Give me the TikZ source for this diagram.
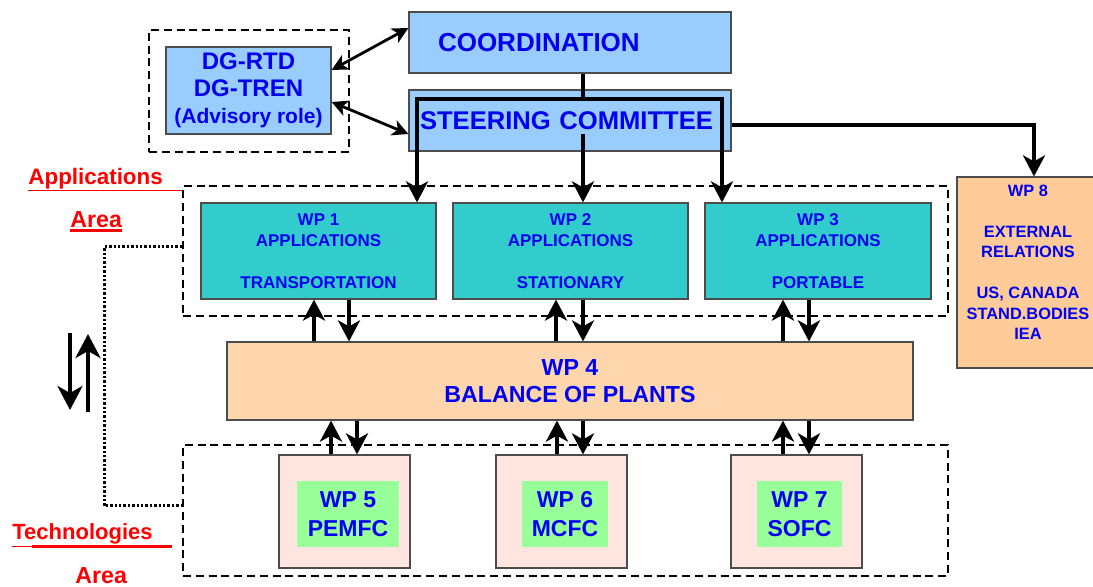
\documentclass[tikz,border=0pt]{standalone}
\usepackage{fontspec}
\setmainfont{Liberation Sans}
\usepackage{xcolor}
\usetikzlibrary{arrows.meta, calc}

\definecolor{skyblue}{HTML}{99CCFF}
\definecolor{wpteal}{HTML}{33CCCC}
\definecolor{wporange}{HTML}{FFCC99}
\definecolor{bopfill}{HTML}{FDD6AD}
\definecolor{techpink}{HTML}{FFE5DF}
\definecolor{techgreen}{HTML}{99FF99}
\definecolor{wpblue}{HTML}{0000F0}

\newcommand{\wpsize}[2]{\fontsize{#1}{#2}\selectfont}

\tikzset{
	box/.style={draw=black!70, line width=0.6pt, inner sep=0pt, align=center, text=wpblue, font=\bfseries},
	area/.style={draw=black, line width=1pt, dash pattern=on 4pt off 2.4pt, inner sep=0pt},
	redlbl/.style={text=red, inner sep=0pt, anchor=base west},
	arr/.style={line width=2pt, -{Stealth[length=10.5pt,width=11pt,inset=3pt]}},
	bigarr/.style={line width=2pt, -{Stealth[length=12pt,width=12.5pt,inset=3.5pt]}},
	dgarr/.style={line width=1.4pt, {Stealth[length=8pt,width=8pt,inset=2.2pt]}-{Stealth[length=8pt,width=8pt,inset=2.2pt]}},
	ulthin/.style={red, line width=0.5pt},
	ulthick/.style={red, line width=1.5pt}
}

\begin{document}
\begin{tikzpicture}[x=0.5pt, y=-0.5pt]
		\useasboundingbox (0,0) rectangle (1093,587);
		\clip (0,0) rectangle (1093,587);

		% Advisory
		\node[area, minimum width=100pt, minimum height=61pt] (advbox) at (249,91) {};
		\node[box, fill=skyblue, minimum width=82.5pt, minimum height=43.5pt, font={\bfseries\wpsize{12}{13.5}}] (dg) at (248.5,90.5)
			{DG-RTD\\DG-TREN\\{\wpsize{10.5}{13.5}(Advisory role)}};

		% Coordination and steering
		\node[box, fill=skyblue, minimum width=161pt, minimum height=30.5pt, text width=132pt, inner xsep=14.5pt, align=left, font={\bfseries\wpsize{13}{15}}] (coord) at (570,42.5)
			{COORDINATION};
		\node[box, fill=skyblue, minimum width=161pt, minimum height=30.5pt, text width=150pt, inner xsep=5.5pt, align=left, font={\bfseries\wpsize{12.8}{15}}] (steer) at (570,120.5)
			{STEERING COMMITTEE};

		% Applications
		\node[area, minimum width=382.5pt, minimum height=65pt] (apparea) at (565.5,251) {};
		\node[box, fill=wpteal, minimum width=117.5pt, minimum height=48pt, font={\bfseries\wpsize{8.5}{10.5}}] (wp1) at (318.5,251)
			{WP 1\\APPLICATIONS\\[10.5pt]TRANSPORTATION};
		\node[box, fill=wpteal, minimum width=117.5pt, minimum height=48pt, font={\bfseries\wpsize{8.5}{10.5}}] (wp2) at (570.5,251)
			{WP 2\\APPLICATIONS\\[10.5pt]STATIONARY};
		\node[box, fill=wpteal, minimum width=113pt, minimum height=48pt, font={\bfseries\wpsize{8.5}{10.5}}] (wp3) at (818,251)
			{WP 3\\APPLICATIONS\\[10.5pt]PORTABLE};

		% External relations
		\node[box, fill=wporange, minimum width=71pt, minimum height=95.5pt, font={\bfseries\wpsize{8.2}{10.25}}] (wp8) at (1028,272.5)
			{WP 8\\[10.25pt]EXTERNAL\\RELATIONS\\[10.25pt]US, CANADA\\STAND.BODIES\\IEA\\\mbox{}};

		% Balance of plants
		\node[box, fill=bopfill, minimum width=343pt, minimum height=39pt, font={\bfseries\wpsize{11.6}{13.5}}] (wp4) at (570,381)
			{WP 4\\BALANCE OF PLANTS};

		% Technologies
		\node[area, minimum width=382.5pt, minimum height=65.5pt] (techarea) at (565.5,510.5) {};
		\node[box, fill=techpink, minimum width=65.5pt, minimum height=56.5pt] (wp5box) at (344.5,511.5) {};
		\node[box, draw=none, fill=techgreen, minimum width=51pt, minimum height=33pt, font={\bfseries\wpsize{11.5}{14.5}}] (wp5) at (348,514)
			{WP 5\\PEMFC};
		\node[box, fill=techpink, minimum width=65.5pt, minimum height=56.5pt] (wp6box) at (561.5,511.5) {};
		\node[box, draw=none, fill=techgreen, minimum width=43pt, minimum height=33pt, font={\bfseries\wpsize{11.5}{14.5}}] (wp6) at (565,514)
			{WP 6\\MCFC};
		\node[box, fill=techpink, minimum width=65.5pt, minimum height=56.5pt] (wp7box) at (796.5,511.5) {};
		\node[box, draw=none, fill=techgreen, minimum width=42.5pt, minimum height=33pt, font={\bfseries\wpsize{11.5}{14.5}}] (wp7) at (799.5,514)
			{WP 7\\SOFC};

		% Red labels
		\node[redlbl, font={\bfseries\wpsize{11.2}{13}}] (applbl) at (28,185) {Applications};
		\node[redlbl, font={\bfseries\wpsize{11.6}{13}}] (apparealbl) at (70,228) {Area};
		\node[redlbl, font={\bfseries\wpsize{11}{13}}] (techlbl) at (12,540) {Technologies};
		\node[redlbl, font={\bfseries\wpsize{11.6}{13}}] (techarealbl) at (75,584) {Area};
		\coordinate (appul) at ([yshift=-3pt]applbl.base west);
		\draw[ulthin] (appul) -- (appul -| apparea.west);
		\draw[ulthick] ([yshift=-1.5pt]apparealbl.base west) -- ([yshift=-1.5pt]apparealbl.base east);
		\coordinate (techul) at ([yshift=-3.5pt]techlbl.base west);
		\draw[ulthin] (techul) -- ++(20,0);
		\draw[ulthick] ($(techul)+(20,0)$) -- ++(140,0);

		% Dotted link between the areas
		\draw[line width=1.5pt, dash pattern=on 1.2pt off 1pt] ($(apparea.west)+(0,-4)$) -- ++(-78,0) |- ($(techarea.west)+(0,-4.5)$);

		% Up and down
		\coordinate (dnA) at (70,333);
		\coordinate (dnB) at (70,410);
		\coordinate (upA) at (88,412);
		\coordinate (upB) at (88,334);
		\draw[bigarr] (dnA) -- (dnB);
		\draw[bigarr] (upA) -- (upB);

		% Advisory links
		\draw[dgarr] ($(dg.east)+(0,-20.5)$) -- ($(coord.west)+(0,-14.5)$);
		\draw[dgarr] ($(dg.east)+(0,11.5)$) -- ($(steer.west)+(0,13.5)$);

		% Steering to applications
		\coordinate (busL) at (417,99);
		\coordinate (busM) at (583,99);
		\coordinate (busR) at (722,99);
		\coordinate (midtop) at (583,134);
		\draw[line width=2pt] (coord.south -| busM) -- (busM);
		\draw[line width=2pt, {Stealth[length=10.5pt,width=11pt,inset=3pt]}-{Stealth[length=10.5pt,width=11pt,inset=3pt]}]
			(wp1.north -| busL) -- (busL) -- (busR) -- (wp3.north -| busR);
		\draw[arr] (midtop) -- (wp2.north -| midtop);
		\draw[arr] ($(steer.east)+(0,4.5)$) -| ($(wp8.north)+(6,0)$);

		% Applications and balance of plants
		\draw[arr] (wp4.north -| 314,0) -- (wp1.south -| 314,0);
		\draw[arr] (wp1.south -| 349,0) -- (wp4.north -| 349,0);
		\draw[arr] (wp4.north -| 556,0) -- (wp2.south -| 556,0);
		\draw[arr] (wp2.south -| 583,0) -- (wp4.north -| 583,0);
		\draw[arr] (wp4.north -| 783,0) -- (wp3.south -| 783,0);
		\draw[arr] (wp3.south -| 809,0) -- (wp4.north -| 809,0);

		% Balance of plants and technologies
		\draw[arr] (wp5box.north -| 331,0) -- (wp4.south -| 331,0);
		\draw[arr] (wp4.south -| 357,0) -- (wp5box.north -| 357,0);
		\draw[arr] (wp6box.north -| 557,0) -- (wp4.south -| 557,0);
		\draw[arr] (wp4.south -| 583,0) -- (wp6box.north -| 583,0);
		\draw[arr] (wp7box.north -| 783,0) -- (wp4.south -| 783,0);
		\draw[arr] (wp4.south -| 809,0) -- (wp7box.north -| 809,0);
	\end{tikzpicture}
\end{document}
